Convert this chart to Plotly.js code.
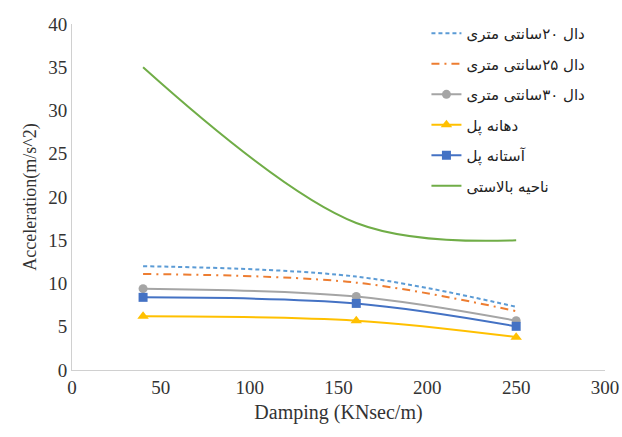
<!DOCTYPE html>
<html><head><meta charset="utf-8">
<script src="https://cdn.plot.ly/plotly-3.0.1.min.js"></script>
<style>body{margin:0;background:#fff}#chart{width:622px;height:437px}</style>
</head><body><div id="chart"></div>
<script>
const damping = [40, 160, 250];
const slab20 = [12.0, 10.8, 7.3];
const slab25 = [11.1, 10.1, 6.8];
const slab30 = [9.4, 8.5, 5.7];
const span = [6.2, 5.7, 3.8];
const abutment = [8.4, 7.7, 5.05];
const ballast = [35, 17, 15];
const names = ["دال ۲۰سانتی متری","دال ۲۵سانتی متری","دال ۳۰سانتی متری","دهانه پل","آستانه پل","ناحیه بالاستی"];

const base = {x: damping, type: 'scatter', line: {shape: 'spline', smoothing: 1, width: 2}};
const traces = [
  Object.assign({}, base, {y: slab20, name: names[0], mode: 'lines', legendgroup: 'a', line: Object.assign({}, base.line, {color: '#5B9BD5', dash: '4px,3px'})}),
  Object.assign({}, base, {y: slab25, name: names[1], mode: 'lines', legendgroup: 'b', line: Object.assign({}, base.line, {color: '#ED7D31', dash: '8px,5px,2px,5px'})}),
  Object.assign({}, base, {y: slab30, name: names[2], mode: 'lines+markers', legendgroup: 'c', line: Object.assign({}, base.line, {color: '#A5A5A5'}), marker: {symbol: 'circle', size: 9, color: '#A5A5A5'}}),
  Object.assign({}, base, {y: span, name: names[3], mode: 'lines+markers', legendgroup: 'd', line: Object.assign({}, base.line, {color: '#FFC000'}), marker: {symbol: 'triangle-up', size: 10, color: '#FFC000'}}),
  Object.assign({}, base, {y: abutment, name: names[4], mode: 'lines+markers', legendgroup: 'e', line: Object.assign({}, base.line, {color: '#4472C4'}), marker: {symbol: 'square', size: 9, color: '#4472C4'}}),
  Object.assign({}, base, {y: ballast, name: names[5], mode: 'lines', legendgroup: 'f', line: Object.assign({}, base.line, {color: '#70AD47'})})
];

const layout = {
  width: 622, height: 437,
  margin: {l: 72, r: 17, t: 24, b: 67},
  paper_bgcolor: '#fff', plot_bgcolor: '#fff',
  font: {family: 'Liberation Serif, Times New Roman, serif', color: '#333', size: 19},
  showlegend: true,
  legend: {x: 0.665, y: 1.02, xanchor: 'left', yanchor: 'top', bgcolor: 'rgba(0,0,0,0)',
           font: {family: 'DejaVu Sans, Noto Sans, sans-serif', size: 15, color: '#222'},
           tracegroupgap: 8, traceorder: 'grouped'},
  xaxis: {range: [0, 300], dtick: 50, tick0: 0, showgrid: false, zeroline: false,
          showline: true, linecolor: '#d0d0d0', linewidth: 1, ticks: '',
          tickfont: {size: 19, color: '#333'},
          title: {text: 'Damping (KNsec/m)', font: {size: 20, color: '#333'}, standoff: 8}},
  yaxis: {range: [0, 40], dtick: 5, tick0: 0, showgrid: false, zeroline: false,
          showline: true, linecolor: '#d0d0d0', linewidth: 1, ticks: '',
          tickfont: {size: 19, color: '#333'},
          title: {text: 'Acceleration(m/s^2)', font: {size: 18, color: '#333'}, standoff: 6}}
};
Plotly.newPlot('chart', traces, layout, {displayModeBar: false, staticPlot: true});
</script></body></html>
